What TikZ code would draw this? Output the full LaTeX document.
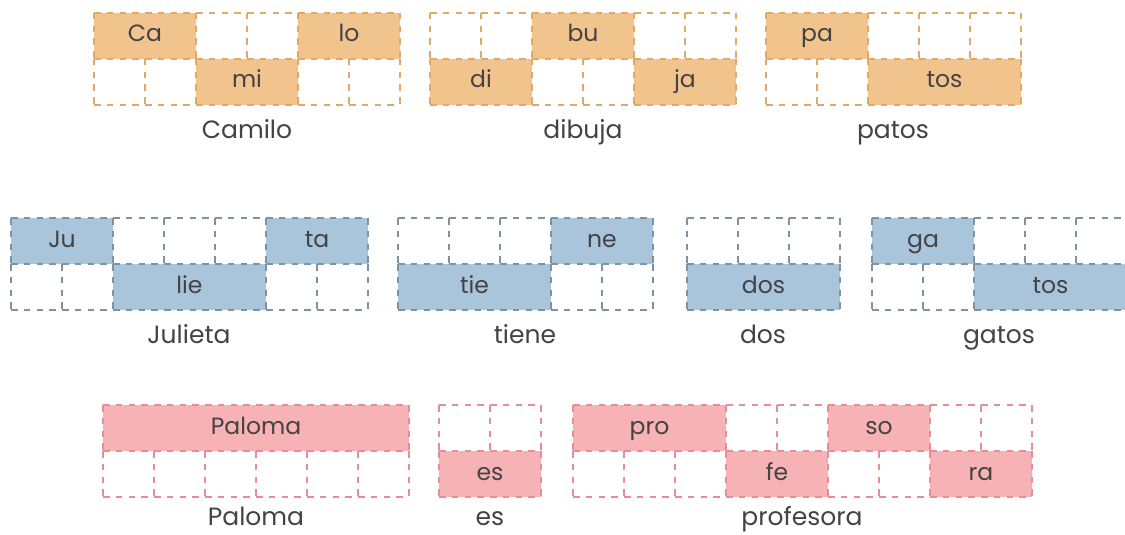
\documentclass[tikz,border=0pt]{standalone}
\usepackage{fontspec}
\setmainfont{Poppins}
\usepackage{xcolor}
\usetikzlibrary{positioning}

\definecolor{ocre}{RGB}{241,196,142}
\definecolor{ocreline}{RGB}{226,168,106}
\definecolor{celeste}{RGB}{168,197,219}
\definecolor{celesteline}{RGB}{128,146,160}
\definecolor{rosa}{RGB}{246,178,180}
\definecolor{rosaline}{RGB}{230,142,152}
\definecolor{texto}{RGB}{68,66,68}

\begin{document}
\begin{tikzpicture}[x=1pt, y=-1pt,
  cell/.style={minimum width=#1*51pt, minimum height=46pt, inner sep=0pt, outer sep=0pt,
    anchor=north west, text=texto, text height=17pt, text depth=5pt,
    font=\fontsize{23.5}{23.5}\selectfont},
  borde/.style={line width=2.2pt, dash pattern=on 6.5pt off 6.25pt},
  palabra/.style={text=texto, inner sep=0pt, text height=18pt, text depth=5pt,
    font=\fontsize{25}{25}\selectfont}]
  \useasboundingbox (0,0) rectangle (1125,535);

  % --- fila 1: Camilo dibuja patos ---
  \foreach \c/\s/\t/\f in {1/2/Ca/ocre, 3/1/{}/white, 4/1/{}/white, 5/2/lo/ocre} {
    \node[cell=\s, fill=\f] (cam-1-\c) at ({94+(\c-1)*51}, 13) {\t};
    \draw[borde, ocreline] (cam-1-\c.north west) -- (cam-1-\c.north east)
      (cam-1-\c.north west) -- (cam-1-\c.south west);
  }
  \foreach \c/\s/\t/\f in {1/1/{}/white, 2/1/{}/white, 3/2/mi/ocre, 5/1/{}/white, 6/1/{}/white} {
    \node[cell=\s, fill=\f] (cam-2-\c) at ({94+(\c-1)*51}, 59) {\t};
    \draw[borde, ocreline] (cam-2-\c.north west) -- (cam-2-\c.north east)
      (cam-2-\c.north west) -- (cam-2-\c.south west)
      (cam-2-\c.south west) -- (cam-2-\c.south east);
  }
  \draw[borde, ocreline] (cam-1-5.north east) -- (cam-1-5.south east)
    (cam-2-6.north east) -- (cam-2-6.south east);
  \coordinate (cam) at (247, 105);
  \node[palabra] (w-cam) [below=15pt of cam] {Camilo};

  \foreach \c/\s/\t/\f in {1/1/{}/white, 2/1/{}/white, 3/2/bu/ocre, 5/1/{}/white, 6/1/{}/white} {
    \node[cell=\s, fill=\f] (dib-1-\c) at ({430+(\c-1)*51}, 13) {\t};
    \draw[borde, ocreline] (dib-1-\c.north west) -- (dib-1-\c.north east)
      (dib-1-\c.north west) -- (dib-1-\c.south west);
  }
  \foreach \c/\s/\t/\f in {1/2/di/ocre, 3/1/{}/white, 4/1/{}/white, 5/2/ja/ocre} {
    \node[cell=\s, fill=\f] (dib-2-\c) at ({430+(\c-1)*51}, 59) {\t};
    \draw[borde, ocreline] (dib-2-\c.north west) -- (dib-2-\c.north east)
      (dib-2-\c.north west) -- (dib-2-\c.south west)
      (dib-2-\c.south west) -- (dib-2-\c.south east);
  }
  \draw[borde, ocreline] (dib-1-6.north east) -- (dib-1-6.south east)
    (dib-2-5.north east) -- (dib-2-5.south east);
  \coordinate (dib) at (583, 105);
  \node[palabra] (w-dib) [below=15pt of dib] {dibuja};

  \foreach \c/\s/\t/\f in {1/2/pa/ocre, 3/1/{}/white, 4/1/{}/white, 5/1/{}/white} {
    \node[cell=\s, fill=\f] (pat-1-\c) at ({766+(\c-1)*51}, 13) {\t};
    \draw[borde, ocreline] (pat-1-\c.north west) -- (pat-1-\c.north east)
      (pat-1-\c.north west) -- (pat-1-\c.south west);
  }
  \foreach \c/\s/\t/\f in {1/1/{}/white, 2/1/{}/white, 3/3/tos/ocre} {
    \node[cell=\s, fill=\f] (pat-2-\c) at ({766+(\c-1)*51}, 59) {\t};
    \draw[borde, ocreline] (pat-2-\c.north west) -- (pat-2-\c.north east)
      (pat-2-\c.north west) -- (pat-2-\c.south west)
      (pat-2-\c.south west) -- (pat-2-\c.south east);
  }
  \draw[borde, ocreline] (pat-1-5.north east) -- (pat-1-5.south east)
    (pat-2-3.north east) -- (pat-2-3.south east);
  \coordinate (pat) at (893, 105);
  \node[palabra] (w-pat) [below=15pt of pat] {patos};

  % --- fila 2: Julieta tiene dos gatos ---
  \foreach \c/\s/\t/\f in {1/2/Ju/celeste, 3/1/{}/white, 4/1/{}/white, 5/1/{}/white, 6/2/ta/celeste} {
    \node[cell=\s, fill=\f] (jul-1-\c) at ({11+(\c-1)*51}, 218) {\t};
    \draw[borde, celesteline] (jul-1-\c.north west) -- (jul-1-\c.north east)
      (jul-1-\c.north west) -- (jul-1-\c.south west);
  }
  \foreach \c/\s/\t/\f in {1/1/{}/white, 2/1/{}/white, 3/3/lie/celeste, 6/1/{}/white, 7/1/{}/white} {
    \node[cell=\s, fill=\f] (jul-2-\c) at ({11+(\c-1)*51}, 264) {\t};
    \draw[borde, celesteline] (jul-2-\c.north west) -- (jul-2-\c.north east)
      (jul-2-\c.north west) -- (jul-2-\c.south west)
      (jul-2-\c.south west) -- (jul-2-\c.south east);
  }
  \draw[borde, celesteline] (jul-1-6.north east) -- (jul-1-6.south east)
    (jul-2-7.north east) -- (jul-2-7.south east);
  \coordinate (jul) at (189, 310);
  \node[palabra] (w-jul) [below=15pt of jul] {Julieta};

  \foreach \c/\s/\t/\f in {1/1/{}/white, 2/1/{}/white, 3/1/{}/white, 4/2/ne/celeste} {
    \node[cell=\s, fill=\f] (tie-1-\c) at ({398+(\c-1)*51}, 218) {\t};
    \draw[borde, celesteline] (tie-1-\c.north west) -- (tie-1-\c.north east)
      (tie-1-\c.north west) -- (tie-1-\c.south west);
  }
  \foreach \c/\s/\t/\f in {1/3/tie/celeste, 4/1/{}/white, 5/1/{}/white} {
    \node[cell=\s, fill=\f] (tie-2-\c) at ({398+(\c-1)*51}, 264) {\t};
    \draw[borde, celesteline] (tie-2-\c.north west) -- (tie-2-\c.north east)
      (tie-2-\c.north west) -- (tie-2-\c.south west)
      (tie-2-\c.south west) -- (tie-2-\c.south east);
  }
  \draw[borde, celesteline] (tie-1-4.north east) -- (tie-1-4.south east)
    (tie-2-5.north east) -- (tie-2-5.south east);
  \coordinate (tie) at (525, 310);
  \node[palabra] (w-tie) [below=15pt of tie] {tiene};

  \foreach \c/\s/\t/\f in {1/1/{}/white, 2/1/{}/white, 3/1/{}/white} {
    \node[cell=\s, fill=\f] (dos-1-\c) at ({687+(\c-1)*51}, 218) {\t};
    \draw[borde, celesteline] (dos-1-\c.north west) -- (dos-1-\c.north east)
      (dos-1-\c.north west) -- (dos-1-\c.south west);
  }
  \foreach \c/\s/\t/\f in {1/3/dos/celeste} {
    \node[cell=\s, fill=\f] (dos-2-\c) at ({687+(\c-1)*51}, 264) {\t};
    \draw[borde, celesteline] (dos-2-\c.north west) -- (dos-2-\c.north east)
      (dos-2-\c.north west) -- (dos-2-\c.south west)
      (dos-2-\c.south west) -- (dos-2-\c.south east);
  }
  \draw[borde, celesteline] (dos-1-3.north east) -- (dos-1-3.south east)
    (dos-2-1.north east) -- (dos-2-1.south east);
  \coordinate (dos) at (763, 310);
  \node[palabra] (w-dos) [below=15pt of dos] {dos};

  \foreach \c/\s/\t/\f in {1/2/ga/celeste, 3/1/{}/white, 4/1/{}/white, 5/1/{}/white} {
    \node[cell=\s, fill=\f] (gat-1-\c) at ({872+(\c-1)*51}, 218) {\t};
    \draw[borde, celesteline] (gat-1-\c.north west) -- (gat-1-\c.north east)
      (gat-1-\c.north west) -- (gat-1-\c.south west);
  }
  \foreach \c/\s/\t/\f in {1/1/{}/white, 2/1/{}/white, 3/3/tos/celeste} {
    \node[cell=\s, fill=\f] (gat-2-\c) at ({872+(\c-1)*51}, 264) {\t};
    \draw[borde, celesteline] (gat-2-\c.north west) -- (gat-2-\c.north east)
      (gat-2-\c.north west) -- (gat-2-\c.south west)
      (gat-2-\c.south west) -- (gat-2-\c.south east);
  }
  \draw[borde, celesteline] (gat-1-5.north east) -- (gat-1-5.south east)
    (gat-2-3.north east) -- (gat-2-3.south east);
  \coordinate (gat) at (999, 310);
  \node[palabra] (w-gat) [below=15pt of gat] {gatos};

  % --- fila 3: Paloma es profesora ---
  \foreach \c/\s/\t/\f in {1/6/Paloma/rosa} {
    \node[cell=\s, fill=\f] (pal-1-\c) at ({103+(\c-1)*51}, 405) {\t};
    \draw[borde, rosaline] (pal-1-\c.north west) -- (pal-1-\c.north east)
      (pal-1-\c.north west) -- (pal-1-\c.south west);
  }
  \foreach \c/\s/\t/\f in {1/1/{}/white, 2/1/{}/white, 3/1/{}/white, 4/1/{}/white, 5/1/{}/white, 6/1/{}/white} {
    \node[cell=\s, fill=\f] (pal-2-\c) at ({103+(\c-1)*51}, 451) {\t};
    \draw[borde, rosaline] (pal-2-\c.north west) -- (pal-2-\c.north east)
      (pal-2-\c.north west) -- (pal-2-\c.south west)
      (pal-2-\c.south west) -- (pal-2-\c.south east);
  }
  \draw[borde, rosaline] (pal-1-1.north east) -- (pal-1-1.south east)
    (pal-2-6.north east) -- (pal-2-6.south east);
  \coordinate (pal) at (256, 497);
  \node[palabra] (w-pal) [below=10pt of pal] {Paloma};

  \foreach \c/\s/\t/\f in {1/1/{}/white, 2/1/{}/white} {
    \node[cell=\s, fill=\f] (es-1-\c) at ({439+(\c-1)*51}, 405) {\t};
    \draw[borde, rosaline] (es-1-\c.north west) -- (es-1-\c.north east)
      (es-1-\c.north west) -- (es-1-\c.south west);
  }
  \foreach \c/\s/\t/\f in {1/2/es/rosa} {
    \node[cell=\s, fill=\f] (es-2-\c) at ({439+(\c-1)*51}, 451) {\t};
    \draw[borde, rosaline] (es-2-\c.north west) -- (es-2-\c.north east)
      (es-2-\c.north west) -- (es-2-\c.south west)
      (es-2-\c.south west) -- (es-2-\c.south east);
  }
  \draw[borde, rosaline] (es-1-2.north east) -- (es-1-2.south east)
    (es-2-1.north east) -- (es-2-1.south east);
  \coordinate (es) at (490, 497);
  \node[palabra] (w-es) [below=10pt of es] {es};

  \foreach \c/\s/\t/\f in {1/3/pro/rosa, 4/1/{}/white, 5/1/{}/white, 6/2/so/rosa, 8/1/{}/white, 9/1/{}/white} {
    \node[cell=\s, fill=\f] (pro-1-\c) at ({573+(\c-1)*51}, 405) {\t};
    \draw[borde, rosaline] (pro-1-\c.north west) -- (pro-1-\c.north east)
      (pro-1-\c.north west) -- (pro-1-\c.south west);
  }
  \foreach \c/\s/\t/\f in {1/1/{}/white, 2/1/{}/white, 3/1/{}/white, 4/2/fe/rosa, 6/1/{}/white, 7/1/{}/white, 8/2/ra/rosa} {
    \node[cell=\s, fill=\f] (pro-2-\c) at ({573+(\c-1)*51}, 451) {\t};
    \draw[borde, rosaline] (pro-2-\c.north west) -- (pro-2-\c.north east)
      (pro-2-\c.north west) -- (pro-2-\c.south west)
      (pro-2-\c.south west) -- (pro-2-\c.south east);
  }
  \draw[borde, rosaline] (pro-1-9.north east) -- (pro-1-9.south east)
    (pro-2-8.north east) -- (pro-2-8.south east);
  \coordinate (pro) at (802, 497);
  \node[palabra] (w-pro) [below=10pt of pro] {profesora};
\end{tikzpicture}
\end{document}
